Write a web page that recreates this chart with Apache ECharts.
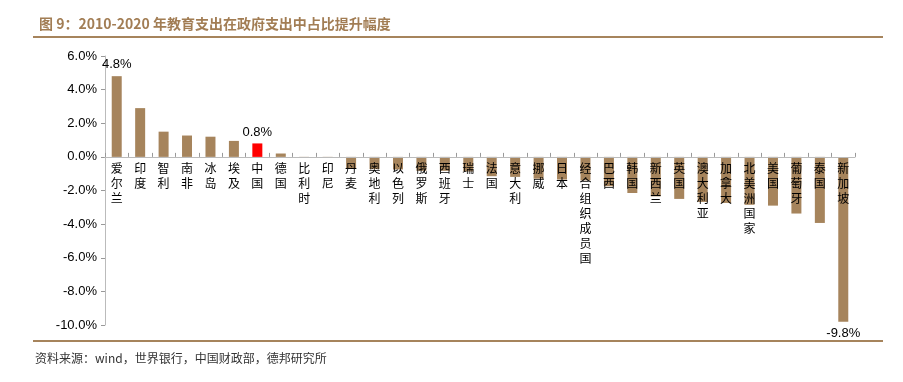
<!DOCTYPE html>
<html>
<head>
<meta charset="utf-8">
<script src="https://cdn.jsdelivr.net/npm/echarts@6/dist/echarts.min.js"></script>
<style>
  html, body { margin: 0; padding: 0; background: #fff; }
  #chart { width: 903px; height: 382px; }
</style>
</head>
<body>
<div id="chart"></div>
<script>
// countries, sorted by change in education share of govt spending (2010-2020)
const categories = ['爱尔兰', '印度', '智利', '南非', '冰岛', '埃及', '中国', '德国', '比利时', '印尼',
    '丹麦', '奥地利', '以色列', '俄罗斯', '西班牙', '瑞士', '法国', '意大利', '挪威', '日本',
    '经合组织成员国', '巴西', '韩国', '新西兰', '英国', '澳大利亚', '加拿大', '北美洲国家', '美国',
    '葡萄牙', '泰国', '新加坡'];
const values = [4.8, 2.9, 1.5, 1.27, 1.2, 0.95, 0.8, 0.2, -0.05, -0.05,
    -0.69, -0.73, -0.75, -0.83, -0.83, -0.87, -1.15, -1.19, -1.3, -1.35,
    -1.4, -1.75, -2.15, -2.35, -2.5, -2.68, -2.74, -2.85, -2.9,
    -3.37, -3.93, -9.8];
const labelled = ['爱尔兰', '中国', '新加坡'];   // bars with value labels
const highlight = '中国';
const yTicks = { min: -10, max: 6, interval: 2 };

const brown = '#A6845C';
const chart = echarts.init(document.getElementById('chart'));

// grid geometry; the category axis is lifted to sit on the zero line
const gridTop = 56, gridBottom = 57, chartH = 382;
const plotH = chartH - gridTop - gridBottom;
const zeroLift = plotH * (0 - yTicks.min) / (yTicks.max - yTicks.min);

const option = {
    animation: false,
    backgroundColor: '#fff',
    title: {
        text: '图 9：2010-2020 年教育支出在政府支出中占比提升幅度',
        left: 34, top: 12,
        textStyle: { color: '#A27D54', fontSize: 14, fontWeight: 'bold', fontFamily: 'Noto Sans CJK SC' }
    },
    graphic: [
        { type: 'line', shape: { x1: 33, y1: 37, x2: 883, y2: 37 }, style: { stroke: '#A6845C', lineWidth: 2 } },
        { type: 'line', shape: { x1: 33, y1: 341, x2: 883, y2: 341 }, style: { stroke: '#A6845C', lineWidth: 2 } },
        {
            type: 'text', left: 35, top: 352,
            style: { text: '资料来源：wind，世界银行，中国财政部，德邦研究所', fill: '#333', fontSize: 12, fontFamily: 'Noto Sans CJK SC' }
        }
    ],
    grid: { left: 105, right: 48, top: gridTop, bottom: gridBottom, outerBoundsMode: 'none', containLabel: false },
    xAxis: {
        type: 'category',
        data: categories,
        offset: -zeroLift,
        axisLine: { onZero: false, lineStyle: { color: '#BBBBBB' } },
        axisTick: { show: true, inside: true, length: 4, lineStyle: { color: '#999' } },
        axisLabel: {
            interval: 0,
            margin: 4,
            color: '#000',
            fontSize: 12,
            lineHeight: 15,
            fontFamily: 'Noto Sans CJK SC',
            formatter: (v) => v.split('').join('\n')
        },
        z: 5
    },
    yAxis: {
        type: 'value',
        min: yTicks.min, max: yTicks.max, interval: yTicks.interval,
        splitLine: { show: false },
        axisLine: { show: true, lineStyle: { color: '#BBBBBB' } },
        axisTick: { show: true, length: 4, lineStyle: { color: '#999' } },
        axisLabel: {
            color: '#000', fontSize: 13, fontFamily: 'Liberation Sans', margin: 8,
            formatter: (v) => v.toFixed(1) + '%'
        }
    },
    series: [{
        type: 'bar',
        barWidth: 10,
        z: 2,
        data: values.map((v, i) => {
            const name = categories[i];
            const item = { value: v, itemStyle: { color: name === highlight ? '#FF0000' : brown } };
            if (labelled.includes(name)) {
                item.label = {
                    show: true,
                    position: v >= 0 ? 'top' : 'bottom',
                    formatter: (p) => p.value.toFixed(1) + '%',
                    color: '#000', fontSize: 13, fontFamily: 'Liberation Sans'
                };
            }
            return item;
        })
    }]
};

chart.setOption(option);
</script>
</body>
</html>
